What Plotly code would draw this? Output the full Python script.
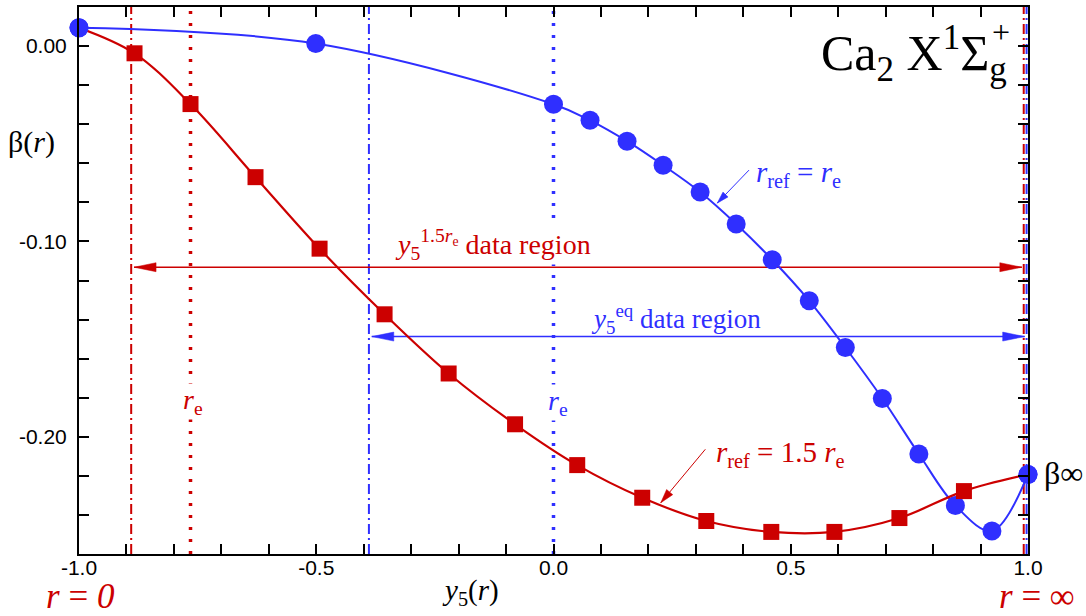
import math
import plotly.graph_objects as go

# ---------------- data ----------------
blue_y5 = [-1.0, -0.501, 0.0, 0.077, 0.155, 0.231, 0.309, 0.385, 0.461, 0.539,
           0.615, 0.693, 0.770, 0.847, 0.924, 1.0]
blue_beta = [0.0094, 0.0013, -0.0298, -0.0380, -0.0487, -0.0610, -0.0747, -0.0911,
             -0.1094, -0.1304, -0.1543, -0.1804, -0.2088, -0.2352, -0.2482, -0.2193]

red_y5 = [-0.883, -0.765, -0.628, -0.493, -0.356, -0.221, -0.081, 0.050, 0.187,
          0.322, 0.459, 0.592, 0.729, 0.865]
red_beta = [-0.0037, -0.0297, -0.0671, -0.1037, -0.1373, -0.1676, -0.1936, -0.2145,
            -0.2312, -0.2431, -0.2487, -0.2487, -0.2416, -0.2278]

# region limits / markers of r_e
red_region = [-0.890, 0.991]     # y5 range of the 1.5 r_e data region
blue_region = [-0.389, 0.997]    # y5 range of the eq data region
red_re = -0.765
blue_re = 0.0
red_region_beta = -0.1132
blue_region_beta = -0.1487

x_ticks = [-1.0, -0.5, 0.0, 0.5, 1.0]
x_ticktext = ["-1.0", "-0.5", "0.0", "0.5", "1.0"]
y_ticks = [0.0, -0.10, -0.20]
y_ticktext = ["0.00", "-0.10", "-0.20"]

XR = [-1.0, 1.0]
YR = [-0.26, 0.02]

# ---------------- layout geometry ----------------
W, H = 1086, 616
ML, MR, MT, MB = 79, 58, 5, 62
PW, PH = W - ML - MR, H - MT - MB
KX = PW / (XR[1] - XR[0])   # px per data unit
KY = PH / (YR[1] - YR[0])

def px2x(px):
    return XR[0] + (px - ML) / KX

def py2y(py):
    return YR[1] - (py - MT) / KY

def px2p(px):
    return (px - ML) / PW

def py2p(py):
    return (H - MB - py) / PH

BLUE = "#2f2fff"
RED = "#cc0000"
SERIF = "Liberation Serif, Times New Roman, serif"
SANS = "Liberation Sans, Arial, sans-serif"

fig = go.Figure()

# blue curve r_ref = r_e
fig.add_trace(go.Scatter(
    x=blue_y5, y=blue_beta, mode="lines+markers",
    line=dict(color=BLUE, width=2, shape="spline", smoothing=1.0),
    marker=dict(symbol="circle", size=19, color=BLUE),
    cliponaxis=False, showlegend=False))

# red curve r_ref = 1.5 r_e (shares the two end points with the blue curve)
red_line_x = [blue_y5[0]] + red_y5 + [blue_y5[-1]]
red_line_y = [blue_beta[0]] + red_beta + [blue_beta[-1]]
fig.add_trace(go.Scatter(
    x=red_line_x, y=red_line_y, mode="lines",
    line=dict(color=RED, width=2.2, shape="spline", smoothing=1.0),
    cliponaxis=False, showlegend=False))
fig.add_trace(go.Scatter(
    x=red_y5, y=red_beta, mode="markers",
    marker=dict(symbol="square", size=16, color=RED),
    cliponaxis=False, showlegend=False))
# redraw end circles on top of the red line
fig.add_trace(go.Scatter(
    x=[blue_y5[0], blue_y5[-1]], y=[blue_beta[0], blue_beta[-1]], mode="markers",
    marker=dict(symbol="circle", size=19, color=BLUE),
    cliponaxis=False, showlegend=False))

shapes = []

def vline(x, color, dash, width):
    shapes.append(dict(type="line", xref="x", yref="paper", x0=x, x1=x, y0=0, y1=1,
                       line=dict(color=color, dash=dash, width=width), layer="below"))

DASHDOT = "10px,4px,2px,4px"
DOTTED = "3px,9px"
vline(red_region[0], RED, DASHDOT, 2)
vline(red_re, RED, DOTTED, 3.5)
vline(blue_region[0], BLUE, DASHDOT, 2)
vline(blue_re, BLUE, DOTTED, 3.5)
vline(blue_region[1], BLUE, DASHDOT, 2)
vline(red_region[1], RED, DASHDOT, 2)

def head(xt, yt, xf, yf, L, Wd, color):
    ux, uy = (xt - xf) * KX, (yt - yf) * KY
    n = math.hypot(ux, uy)
    ux, uy = ux / n, uy / n
    bx, by = -L * ux, -L * uy
    nx, ny = -uy * Wd / 2, ux * Wd / 2
    p1 = (xt + (bx + nx) / KX, yt + (by + ny) / KY)
    p2 = (xt + (bx - nx) / KX, yt + (by - ny) / KY)
    path = f"M {xt},{yt} L {p1[0]},{p1[1]} L {p2[0]},{p2[1]} Z"
    shapes.append(dict(type="path", xref="x", yref="y", path=path,
                       fillcolor=color, line=dict(color=color, width=0.5), layer="below"))

def arrow(xf, yf, xt, yt, color, width, L, Wd, both=False):
    shapes.append(dict(type="line", xref="x", yref="y", x0=xf, y0=yf, x1=xt, y1=yt,
                       line=dict(color=color, width=width), layer="below"))
    head(xt, yt, xf, yf, L, Wd, color)
    if both:
        head(xf, yf, xt, yt, L, Wd, color)

# data-region double arrows
arrow(red_region[0] + 0.006, red_region_beta, red_region[1] - 0.004, red_region_beta,
      RED, 1.5, 22, 9, both=True)
arrow(blue_region[0] + 0.006, blue_region_beta, blue_region[1] - 0.004, blue_region_beta,
      BLUE, 1.5, 22, 9, both=True)

# pointer arrows to the curves
arrow(0.412, -0.0635, 0.345, -0.0804, BLUE, 1, 12, 7)
arrow(0.320, -0.2064, 0.226, -0.2338, RED, 1, 14, 8)

ann = []

def text(s, px, py, size, color="black", xanchor="center", yanchor="middle",
         paper=False, bg=None, family=SERIF):
    d = dict(text=s, showarrow=False, xanchor=xanchor, yanchor=yanchor,
             font=dict(family=family, size=size, color=color))
    if paper:
        d.update(xref="paper", yref="paper", x=px2p(px), y=py2p(py))
    else:
        d.update(xref="x", yref="y", x=px2x(px), y=py2y(py))
    if bg:
        d.update(bgcolor=bg, borderpad=0)
    ann.append(d)

# title
text("Ca<sub>2</sub> X<sup>1</sup>Σ<sub>g</sub>", 1009, 52, 50, xanchor="right")
text("+", 1001, 30, 32)

# region labels
text("<i>y</i><sub>5</sub><sup>1.5<i>r</i><sub>e</sub></sup> data region", 394, 243, 28,
     color=RED, xanchor="left", bg="white")
text("<i>y</i><sub>5</sub><sup>eq</sup> data region", 589, 318, 27,
     color=BLUE, xanchor="left")

# r_e labels
text("<i>r</i><sub>e</sub>", 193, 401, 28, color=RED, bg="white")
text("<i>r</i><sub>e</sub>", 558, 402, 28, color=BLUE, bg="white")

# curve labels
text("<i>r</i><sub>ref</sub> = <i>r</i><sub>e</sub>", 754, 173, 29,
     color=BLUE, xanchor="left")
text("<i>r</i><sub>ref</sub> = 1.5 <i>r</i><sub>e</sub>", 714, 454, 29,
     color=RED, xanchor="left")

# beta infinity
text("β∞", 1042, 473, 32, xanchor="left", paper=True)

# axis titles & end labels (outside plot)
text("β(<i>r</i>)", 6, 140, 30, xanchor="left", paper=True)
text("<i>y</i><sub>5</sub>(<i>r</i>)", 470, 592, 29, paper=True)
text("<i>r</i> = <i>0</i>", 80, 597, 35, color=RED, paper=True)
text("<i>r</i> = ∞", 1037, 597, 35, color=RED, paper=True)

axis_common = dict(showline=True, linewidth=2, linecolor="black", mirror="allticks",
                   ticks="inside", ticklen=10, tickwidth=1.5, tickcolor="black",
                   showgrid=False, zeroline=False,
                   tickfont=dict(family=SANS, size=21, color="black"))

fig.update_layout(
    width=W, height=H, autosize=False,
    margin=dict(l=ML, r=MR, t=MT, b=MB),
    paper_bgcolor="white", plot_bgcolor="white",
    xaxis=dict(range=XR, tickvals=x_ticks, ticktext=x_ticktext, ticklabelstandoff=-6,
               minor=dict(dtick=0.1, tick0=-1.0, ticks="inside", ticklen=10,
                          tickwidth=1.5, tickcolor="black", showgrid=False),
               **axis_common),
    yaxis=dict(range=YR, tickvals=y_ticks, ticktext=y_ticktext, ticklabelstandoff=6,
               minor=dict(dtick=0.02, tick0=0.0, ticks="inside", ticklen=10,
                          tickwidth=1.5, tickcolor="black", showgrid=False),
               **axis_common),
    shapes=shapes, annotations=ann, showlegend=False,
)

fig.write_html("out.html")
